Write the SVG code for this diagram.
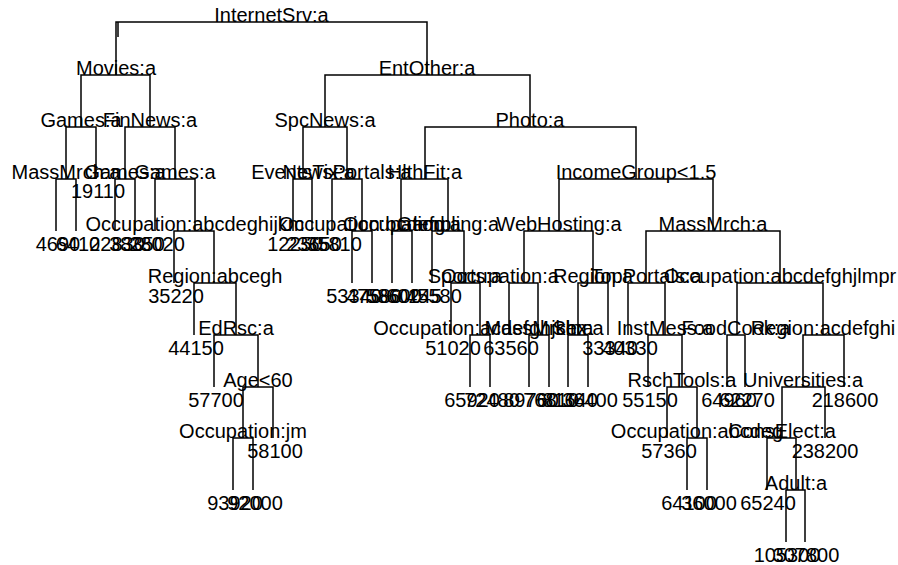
<svg xmlns="http://www.w3.org/2000/svg" width="898" height="565" viewBox="0 0 898 565">
<style>
.c{fill:none;stroke:#000;stroke-width:1.5}
text{font-family:"Liberation Sans",Arial,sans-serif;font-size:20px;fill:#000;text-anchor:middle}
</style>
<rect width="898" height="565" fill="#fff"/>
<g id="connectors" class="c">
<path d="M118,22V37"/>
<path d="M116,75V22H427V75"/>
<path d="M81,127V75H150V127"/>
<path d="M325,127V75H530V127"/>
<path d="M66,179V127H96V179"/>
<path d="M125,179V127H175V179"/>
<path d="M303,179V127H347V179"/>
<path d="M425,179V127H636V179"/>
<path d="M56,231V179H76V231"/>
<path d="M115,231V179H135V231"/>
<path d="M155,231V179H195V231"/>
<path d="M293,231V179H312V231"/>
<path d="M332,231V179H362V231"/>
<path d="M401,231V179H448V231"/>
<path d="M559,231V179H713V231"/>
<path d="M174,283V231H214V283"/>
<path d="M352,283V231H372V283"/>
<path d="M392,283V231H412V283"/>
<path d="M432,283V231H464V283"/>
<path d="M524,283V231H593V283"/>
<path d="M646,283V231H780V283"/>
<path d="M194,335V283H236V335"/>
<path d="M451,335V283H480V335"/>
<path d="M509,335V283H538V335"/>
<path d="M578,335V283H608V335"/>
<path d="M628,335V283H665V335"/>
<path d="M737,335V283H823V335"/>
<path d="M214,387V335H258V387"/>
<path d="M470,387V335H490V387"/>
<path d="M529,387V335H549V387"/>
<path d="M568,387V335H588V387"/>
<path d="M648,387V335H682V387"/>
<path d="M727,387V335H745V387"/>
<path d="M803,387V335H844V387"/>
<path d="M243,438V387H273V438"/>
<path d="M667,438V387H697V438"/>
<path d="M782,438V387H825V438"/>
<path d="M233,490V438H253V490"/>
<path d="M687,490V438H707V490"/>
<path d="M767,490V438H796V490"/>
<path d="M786,542V490H805V542"/>
</g>
<g id="n1"><text x="271.5" y="22">InternetSrv:a</text></g>
<g id="n2"><text x="116" y="75">Movies:a</text></g>
<g id="n3"><text x="427" y="75">EntOther:a</text></g>
<g id="n4"><text x="81" y="127">Games:a</text></g>
<g id="n5"><text x="150" y="127">FinNews:a</text></g>
<g id="n6"><text x="325" y="127">SpcNews:a</text></g>
<g id="n7"><text x="530" y="127">Photo:a</text></g>
<g id="n8"><text x="66" y="179">MassMrch:a</text></g>
<g id="n10"><text x="125" y="179">Games:a</text></g>
<g id="n11"><text x="175" y="179">Games:a</text></g>
<g id="n12"><text x="303" y="179">EventsTix:a</text></g>
<g id="n13"><text x="347" y="179">NewsPortals:a</text></g>
<g id="n14"><text x="425" y="179">HlthFit:a</text></g>
<g id="n15"><text x="636" y="179">IncomeGroup&lt;1.5</text></g>
<g id="n16"><text x="195" y="231">Occupation:abcdeghijkm</text></g>
<g id="n17"><text x="362" y="231">Occupation:bcdefg</text></g>
<g id="n18"><text x="402" y="231">Occupation:a</text></g>
<g id="n19"><text x="448" y="231">Gambling:a</text></g>
<g id="n20"><text x="559" y="231">WebHosting:a</text></g>
<g id="n21"><text x="713" y="231">MassMrch:a</text></g>
<g id="n22"><text x="215" y="283">Region:abcegh</text></g>
<g id="n23"><text x="465" y="283">Sports:a</text></g>
<g id="n24"><text x="500" y="283">Occupation:a</text></g>
<g id="n25"><text x="593" y="283">Region:a</text></g>
<g id="n26"><text x="646" y="283">TopPortals:a</text></g>
<g id="n27"><text x="780" y="283">Occupation:abcdefghjlmpr</text></g>
<g id="n28"><text x="236" y="335">EdRsc:a</text></g>
<g id="n29"><text x="480" y="335">Occupation:acdefghjklm</text></g>
<g id="n30"><text x="539" y="335">MassMrch:a</text></g>
<g id="n31"><text x="578" y="335">Sex:a</text></g>
<g id="n32"><text x="665" y="335">InstMess:a</text></g>
<g id="n33"><text x="736" y="335">FoodCook:a</text></g>
<g id="n34"><text x="823" y="335">Region:acdefghi</text></g>
<g id="n35"><text x="258" y="387">Age&lt;60</text></g>
<g id="n36"><text x="682" y="387">RschTools:a</text></g>
<g id="n37"><text x="803" y="387">Universities:a</text></g>
<g id="n38"><text x="243" y="438">Occupation:jm</text></g>
<g id="n39"><text x="697" y="438">Occupation:abcdeg</text></g>
<g id="n40"><text x="782" y="438">ConsElect:a</text></g>
<g id="n41"><text x="796" y="490">Adult:a</text></g>
<g id="leaves">
<text x="98" y="198">19110</text>
<text x="58" y="251">4690</text>
<text x="78" y="251">6410</text>
<text x="117" y="251">22830</text>
<text x="137" y="251">38350</text>
<text x="157" y="251">28020</text>
<text x="295" y="251">12250</text>
<text x="314" y="251">23650</text>
<text x="334" y="251">35810</text>
<text x="176" y="303">35220</text>
<text x="354" y="303">53340</text>
<text x="374" y="303">47580</text>
<text x="394" y="303">58600</text>
<text x="414" y="303">60245</text>
<text x="434" y="303">45580</text>
<text x="196" y="355">44150</text>
<text x="453" y="355">51020</text>
<text x="511" y="355">63560</text>
<text x="610" y="355">33340</text>
<text x="630" y="355">40330</text>
<text x="216" y="407">57700</text>
<text x="472" y="407">65920</text>
<text x="492" y="407">72480</text>
<text x="531" y="407">89760</text>
<text x="551" y="407">76810</text>
<text x="570" y="407">81640</text>
<text x="590" y="407">36400</text>
<text x="650" y="407">55150</text>
<text x="729" y="407">64960</text>
<text x="747" y="407">62270</text>
<text x="845" y="407">218600</text>
<text x="275" y="458">58100</text>
<text x="669" y="458">57360</text>
<text x="825" y="458">238200</text>
<text x="235" y="510">93920</text>
<text x="255" y="510">92000</text>
<text x="689" y="510">64100</text>
<text x="709" y="510">36000</text>
<text x="768" y="510">65240</text>
<text x="787" y="562">105300</text>
<text x="806" y="562">307800</text>
</g>
</svg>
